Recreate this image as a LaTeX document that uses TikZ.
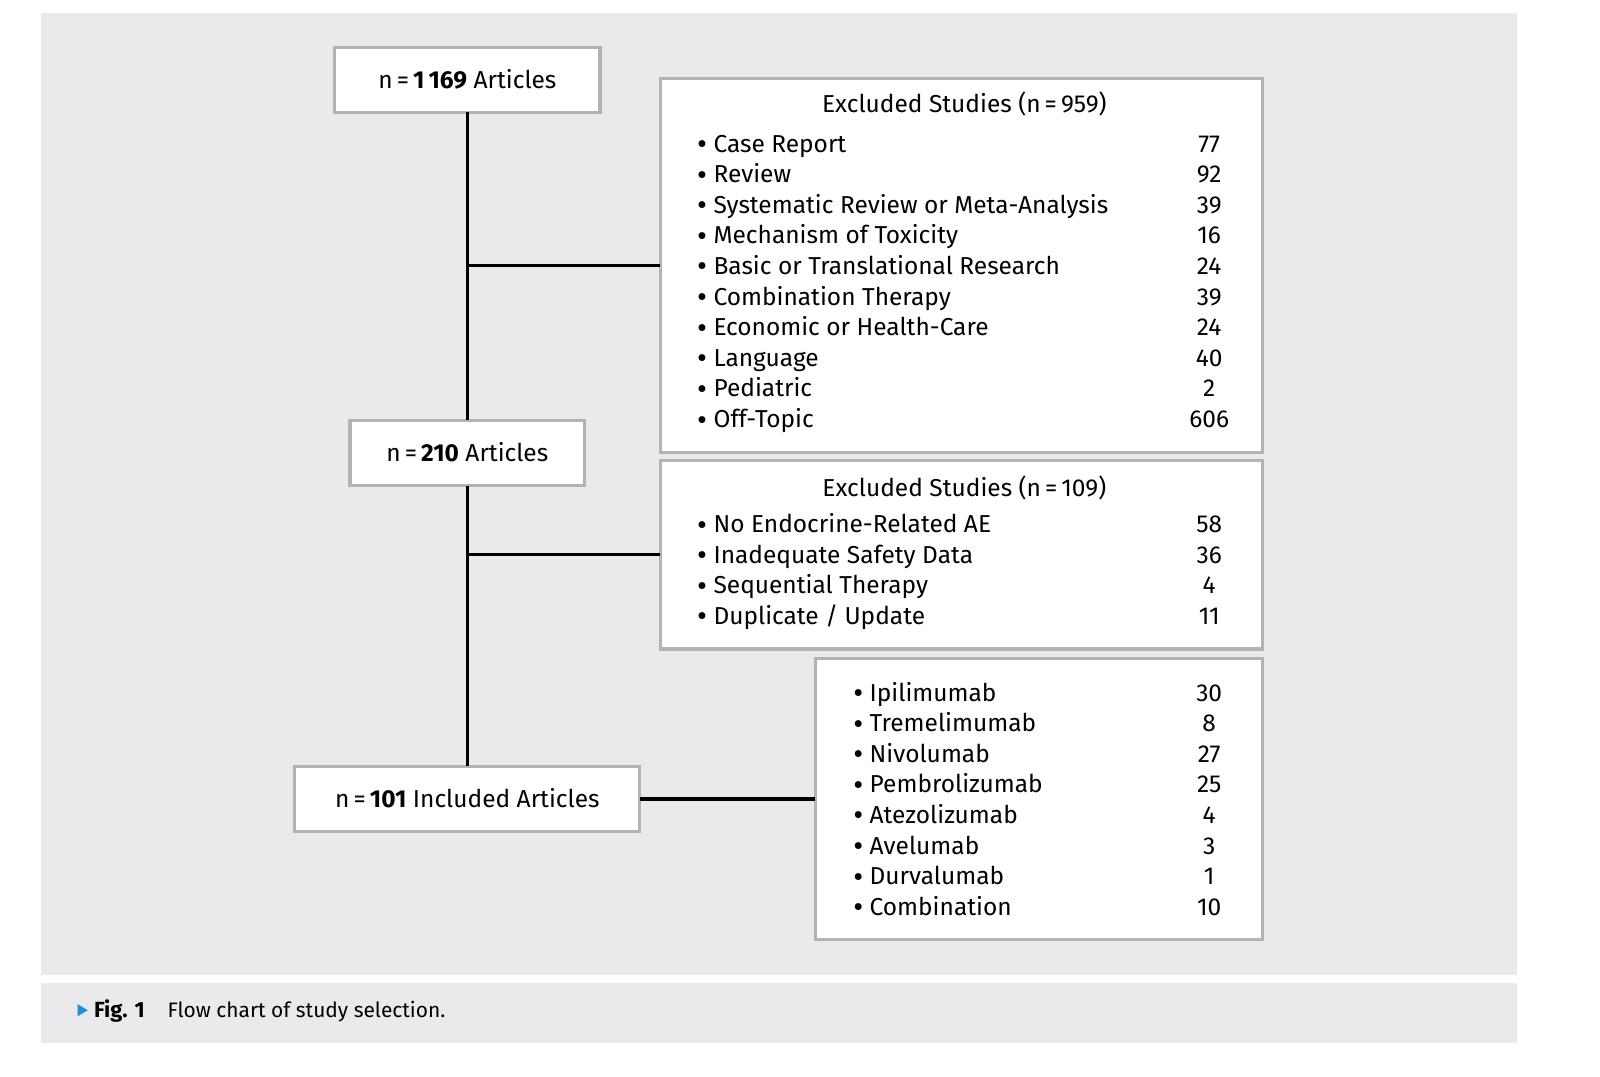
\documentclass[tikz,border=0pt]{standalone}
\usepackage{fontspec}
\setmainfont{Fira Sans}
\definecolor{bgc}{HTML}{EAEAEC}
\definecolor{boxc}{HTML}{B3B3B3}
\definecolor{trc}{HTML}{1E8FD8}
\newcommand{\bul}{\raisebox{-0.1em}{\scalebox{1.25}{\textbullet}}\ }
\begin{document}
\begin{tikzpicture}[x=1pt,y=-1pt,
  box/.style={draw=boxc,line width=3pt,fill=white,inner sep=0pt,outer sep=0pt},
  item/.style={anchor=base west,inner sep=0pt,font=\fontsize{24}{28}\selectfont},
  num/.style={anchor=base,inner sep=0pt,font=\fontsize{24}{28}\selectfont},
  conn/.style={line width=3pt,black},
  captext/.style={anchor=base west,inner sep=0pt,font=\fontsize{20.5}{24}\selectfont}]
\useasboundingbox (0,0) rectangle (1568,1054.5);
\fill[bgc] (40,13) rectangle (1487,955);
\fill[bgc] (40,963) rectangle (1487,1022);

% main boxes
\node[box,minimum width=260pt,minimum height=63pt] (b1) at (458,78.5) {};
\node[box,minimum width=230pt,minimum height=64pt] (b2) at (458,444) {};
\node[box,minimum width=338pt,minimum height=64pt] (b3) at (458,783) {};
\node[num] (t1) at (458,87) {n\,=\,\textbf{1\,169} Articles};
\node[num] (t2) at (458,452) {n\,=\,\textbf{210} Articles};
\node[num] (t3) at (458,791) {n\,=\,\textbf{101} Included Articles};

% exclusion boxes
\node[box,minimum width=590pt,minimum height=366pt] (exA) at (942,260) {};
\node[box,minimum width=590pt,minimum height=185pt] (exB) at (942,543.5) {};
\node[box,minimum width=438pt,minimum height=276pt] (exC) at (1018,783) {};

% connectors
\draw[conn] (b1.south) -- (b2.north);
\draw[conn] (b2.south) -- (b3.north);
\draw[conn] (b1.south |- exA.west) -- (exA.west);
\draw[conn] (b2.south |- exB.west) -- (exB.west);
\draw[conn] (b3.east) -- (exC.west);

% box A content
\node[num] (tA) at (945,110) {Excluded Studies (n\,=\,959)};
\foreach \t/\n [count=\i] in {Case Report/77,Review/92,Systematic Review or Meta-Analysis/39,Mechanism of Toxicity/16,Basic or Translational Research/24,Combination Therapy/39,Economic or Health-Care/24,Language/40,Pediatric/2,Off-Topic/606}{
  \node[item] (a\i) at (683,{149+30*(\i-1)}) {\bul\t};
  \node[num] (na\i) at (1185,{149+30*(\i-1)}) {\n};
}

% box B content
\node[num] (tB) at (945,487) {Excluded Studies (n\,=\,109)};
\foreach \t/\n [count=\i] in {No Endocrine-Related AE/58,Inadequate Safety Data/36,Sequential Therapy/4,{Duplicate / Update}/11}{
  \node[item] (bb\i) at (683,{522+30*(\i-1)}) {\bul\t};
  \node[num] (nb\i) at (1185,{522+30*(\i-1)}) {\n};
}

% box C content
\foreach \t/\n [count=\i] in {Ipilimumab/30,Tremelimumab/8,Nivolumab/27,Pembrolizumab/25,Atezolizumab/4,Avelumab/3,Durvalumab/1,Combination/10}{
  \node[item] (c\i) at (836,{687+30*(\i-1)}) {\bul\t};
  \node[num] (nc\i) at (1185,{687+30*(\i-1)}) {\n};
}

% caption
\fill[trc] (76,984) -- (86,990) -- (76,996) -- cycle;
\node[captext,font=\fontsize{21.5}{24}\selectfont] (fig) at (92,997) {\textbf{Fig. 1}};
\node[captext] (captxt) at (164,997) {Flow chart of study selection.};
\end{tikzpicture}
\end{document}
